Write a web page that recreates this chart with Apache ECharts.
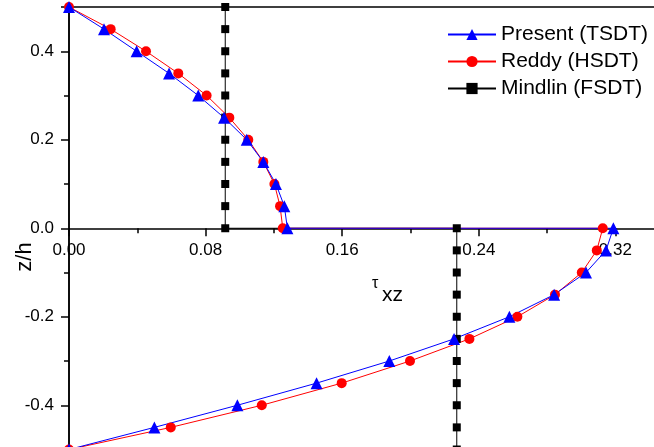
<!DOCTYPE html>
<html><head><meta charset="utf-8">
<script src="https://cdn.jsdelivr.net/npm/echarts@6/dist/echarts.min.js"></script>
<style>html,body{margin:0;padding:0;background:#fff}#c{width:654px;height:447px}</style>
</head><body><div id="c"></div>
<script>
const zTop = [0.5, 0.45, 0.4, 0.35, 0.3, 0.25, 0.2, 0.15, 0.1, 0.05, 0.0];
const zBottom = [0.0, -0.05, -0.1, -0.15, -0.2, -0.25, -0.3, -0.35, -0.4, -0.45, -0.5];
const presentTop = [0.000, 0.0205, 0.0396, 0.0586, 0.0757, 0.0908, 0.1041, 0.1138, 0.1212, 0.1261, 0.1279];
const presentBottom = [0.3188, 0.3145, 0.3028, 0.2841, 0.2579, 0.2255, 0.1876, 0.1450, 0.0986, 0.0500, 0.000];
const reddyTop = [0.000, 0.0244, 0.0451, 0.0640, 0.0806, 0.0939, 0.1050, 0.1138, 0.1203, 0.1236, 0.1252];
const reddyBottom = [0.3126, 0.3091, 0.3003, 0.2846, 0.2626, 0.2345, 0.1997, 0.1597, 0.1129, 0.0596, 0.000];
const mindlinTop = [0.0915, 0.0915, 0.0915, 0.0915, 0.0915, 0.0915, 0.0915, 0.0915, 0.0915, 0.0915, 0.0915];
const mindlinBottom = [0.2271, 0.2271, 0.2271, 0.2271, 0.2271, 0.2271, 0.2271, 0.2271, 0.2271, 0.2271, 0.2271];
const xTickLabels = ['0.00', '0.08', '0.16', '0.24', '0.32'];
const yTickLabels = ['-0.4', '-0.2', '0.0', '0.2', '0.4'];
const seriesNames = ['Present (TSDT)', 'Reddy (HSDT)', 'Mindlin (FSDT)'];

function pairs(top, bottom) {
  return zTop.map((z, i) => [top[i], z]).concat(zBottom.map((z, i) => [bottom[i], z]));
}
function pick(labels, v, d) {
  const s = (Math.abs(v) < 1e-9 ? 0 : v).toFixed(d);
  return labels.indexOf(s) >= 0 ? s : '';
}
const FONT = 'Liberation Sans, Arial, sans-serif';
const Y_MIN = -0.5, Y_MAX = 0.5, GRID_H = 442.5;
// place the x axis line where z/h = 0 (axis crossing), measured up from the grid bottom
const xAxisOffset = -(0 - Y_MIN) / (Y_MAX - Y_MIN) * GRID_H;
const AX = {color: '#000', width: 1.5};
const chart = echarts.init(document.getElementById('c'), null, {renderer: 'canvas'});
chart.setOption({
  animation: false,
  backgroundColor: '#fff',
  grid: {left: 69, top: 7, width: 683, height: GRID_H, containLabel: false, outerBoundsMode: 'none',
    show: true, borderColor: '#000', borderWidth: 1.5, backgroundColor: 'transparent'},
  legend: {
    orient: 'vertical', left: 447, top: 24, padding: 0, itemWidth: 48, itemHeight: 14, itemGap: 6,
    data: seriesNames,
    textStyle: {fontSize: 21, fontFamily: FONT, color: '#000'}
  },
  xAxis: {
    type: 'value', min: 0, max: 0.4, interval: 0.08, position: 'bottom', offset: xAxisOffset,
    axisLine: {onZero: false, lineStyle: AX},
    axisTick: {show: true, length: 8, lineStyle: AX},
    minorTick: {show: true, splitNumber: 2, length: 5, lineStyle: AX},
    splitLine: {show: false},
    axisLabel: {fontSize: 17, fontFamily: FONT, color: '#000', margin: 14, showMaxLabel: false,
      formatter: v => pick(xTickLabels, v, 2)}
  },
  yAxis: {
    type: 'value', min: Y_MIN, max: Y_MAX, splitNumber: 5,
    axisLine: {onZero: false, lineStyle: AX},
    axisTick: {show: true, length: 8, lineStyle: AX},
    minorTick: {show: true, splitNumber: 2, length: 5, lineStyle: AX},
    splitLine: {show: false},
    axisLabel: {fontSize: 17, fontFamily: FONT, color: '#000', margin: 15,
      formatter: v => pick(yTickLabels, v, 1)}
  },
  graphic: [
    {type: 'text', x: 25, y: 257, rotation: Math.PI / 2, style: {text: 'z/h', font: '22px ' + FONT, fill: '#000', textAlign: 'center', textVerticalAlign: 'middle'}},
    {type: 'text', x: 372, y: 276, style: {text: 'τ', font: '16px ' + FONT, fill: '#000', textAlign: 'left', textBaseline: 'alphabetic'}},
    {type: 'text', x: 382, y: 285, style: {text: 'xz', font: '21px ' + FONT, fill: '#000', textAlign: 'left', textBaseline: 'alphabetic'}}
  ],
  series: [
    {name: seriesNames[2], type: 'line', data: pairs(mindlinTop, mindlinBottom), symbol: 'rect', symbolSize: 8, showAllSymbol: true,
      itemStyle: {color: '#000'}, lineStyle: {color: '#000', width: 1}},
    {name: seriesNames[1], type: 'line', data: pairs(reddyTop, reddyBottom), symbol: 'circle', symbolSize: 10, showAllSymbol: true,
      itemStyle: {color: '#ff0000'}, lineStyle: {color: '#ff0000', width: 1}},
    {name: seriesNames[0], type: 'line', data: pairs(presentTop, presentBottom), symbol: 'triangle', symbolSize: 12, showAllSymbol: true,
      itemStyle: {color: '#0000ff'}, lineStyle: {color: '#0000ff', width: 1}}
  ]
});
</script></body></html>
